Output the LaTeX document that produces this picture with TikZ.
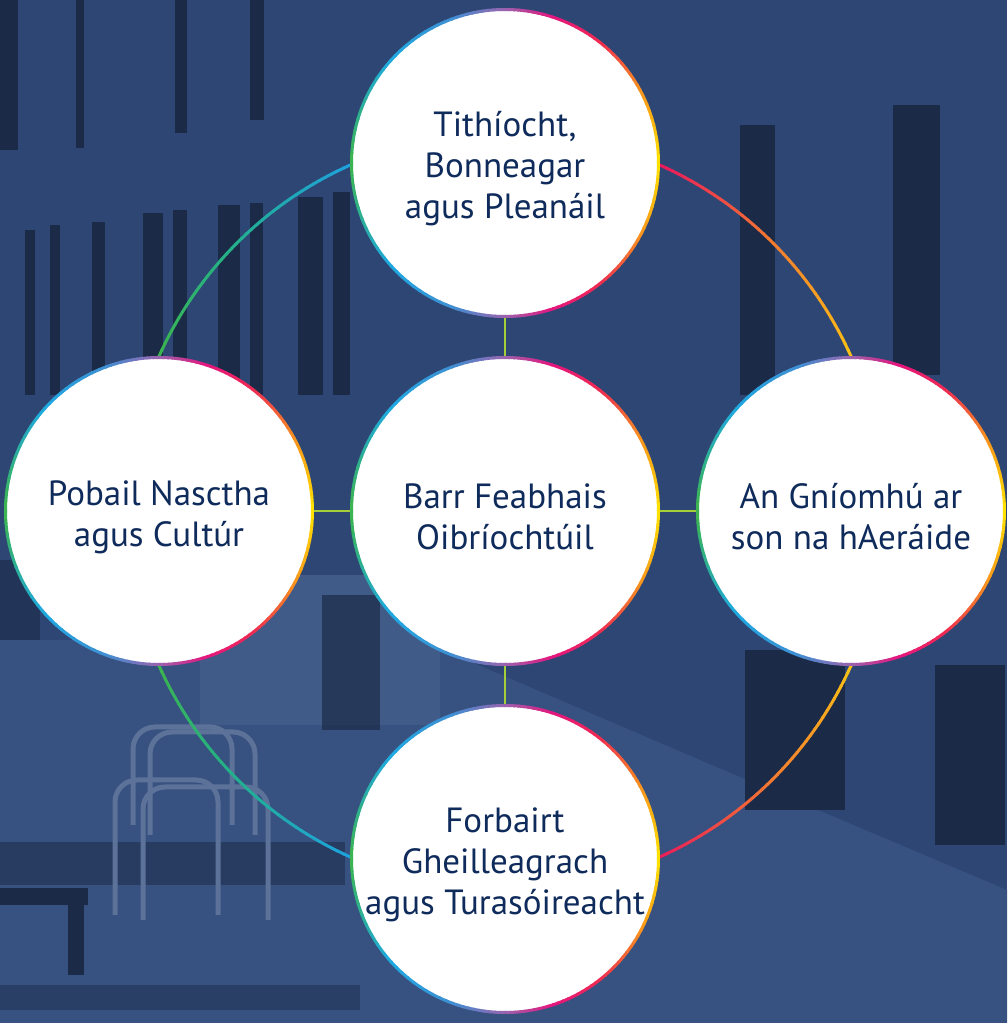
\documentclass[tikz,border=0pt]{standalone}
\usepackage{fontspec}
\setmainfont{PT Sans}
\usetikzlibrary{calc}
\definecolor{bgblue}{HTML}{2D4674}
\definecolor{bgdark}{HTML}{1B2B47}
\definecolor{bglight}{HTML}{375180}
\definecolor{bglighter}{HTML}{415B88}
\definecolor{rack}{HTML}{5D7299}
\definecolor{navy}{HTML}{0F2B5B}
\definecolor{rY}{HTML}{FFE500}
\definecolor{rO}{HTML}{F7931E}
\definecolor{rR}{HTML}{EE2B52}
\definecolor{rM}{HTML}{E5157E}
\definecolor{rP}{HTML}{9A63AE}
\definecolor{rB}{HTML}{3F8FD2}
\definecolor{rC}{HTML}{1DA9E1}
\definecolor{rG}{HTML}{3DB549}
\definecolor{aR}{HTML}{E8185C}
\definecolor{aO}{HTML}{F47C30}
\definecolor{aY}{HTML}{F9C514}
\definecolor{aC}{HTML}{1EA2DF}
\definecolor{aT}{HTML}{22B08E}
\definecolor{aG}{HTML}{3DB54A}
\definecolor{lime}{HTML}{A6CE39}
\tikzset{
  bubble/.style={circle, fill=white, minimum size=307pt, inner sep=0pt},
  txt/.style={align=center, text=navy, font=\fontsize{35}{41}\selectfont, inner sep=0pt, yshift=-6pt},
  ringline/.style={line width=3pt, line cap=butt},
  arcline/.style={line width=3pt, line cap=butt},
  conn/.style={draw=lime, line width=2.5pt},
  win/.style={fill=bgdark},
  rackline/.style={draw=rack, line width=5pt, rounded corners=22pt},
}
\newcommand\gradring[1]{%
  \begin{scope}[shift={(#1)}]
  \foreach \s/\e/\ca/\cb in {0/28/rY/rO,28/52/rO/rR,52/72/rR/rM,72/90/rM/rP,90/110/rP/rB,110/138/rB/rC,138/180/rC/rG,180/222/rG/rC,222/250/rC/rB,250/270/rB/rP,270/288/rP/rM,288/308/rM/rR,308/332/rR/rO,332/360/rO/rY}{
    \foreach \i in {0,...,9}{
      \pgfmathsetmacro\aa{\s+\i*(\e-\s)/10}
      \pgfmathsetmacro\bb{\aa+(\e-\s)/10+0.5}
      \pgfmathsetmacro\pp{(\i+0.5)*10}
      \draw[ringline, draw={\cb!\pp!\ca}] (\aa:153.5) arc[start angle=\aa, end angle=\bb, radius=153.5];
    }}
  \end{scope}}
\newcommand\gradarc[4]{%
  \foreach \i in {0,...,19}{
    \pgfmathsetmacro\aa{#1+\i*(#2-#1)/20}
    \pgfmathsetmacro\bb{\aa+(#2-#1)/20*1.15}
    \pgfmathsetmacro\pp{(\i+0.5)*5}
    \draw[arcline, draw={#4!\pp!#3}] ($(c.center)+(\aa:379)$) arc[start angle=\aa, end angle=\bb, radius=379];
  }}
\begin{document}
\begin{tikzpicture}[x=1pt,y=1pt]
\useasboundingbox (0,0) rectangle (1007,1023);
% background scene (pixel coordinates, y downwards)
\fill[bgblue] (0,0) rectangle (1007,1023);
\begin{scope}[shift={(0,1023)}, yscale=-1]
  % ground / pavement
  \fill[bglight] (0,640) -- (420,640) -- (700,760) -- (1007,890) -- (1007,1023) -- (0,1023) -- cycle;
  \fill[bgdark, opacity=0.55] (0,842) -- (345,842) -- (345,885) -- (0,885) -- cycle;
  \fill[bgdark, opacity=0.45] (0,985) rectangle (360,1010);
  \fill[bglighter] (200,575) rectangle (440,725);
  % upper windows
  \fill[win] (0,0) rectangle (18,150);
  \fill[win] (76,0) rectangle (84,148);
  \fill[win] (175,0) rectangle (187,133);
  \fill[win] (250,0) rectangle (264,120);
  % middle windows
  \fill[win] (25,230) rectangle (35,395);
  \fill[win] (50,225) rectangle (60,395);
  \fill[win] (92,222) rectangle (105,395);
  \fill[win] (143,213) rectangle (163,395);
  \fill[win] (173,210) rectangle (187,395);
  \fill[win] (218,205) rectangle (240,395);
  \fill[win] (250,203) rectangle (263,395);
  \fill[win] (298,197) rectangle (323,395);
  \fill[win] (333,192) rectangle (350,395);
  % right windows
  \fill[win] (740,125) rectangle (775,395);
  \fill[win] (893,105) rectangle (940,375);
  % lower left building
  \fill[win, opacity=0.6] (0,560) rectangle (40,640);
  % lower right fences
  \fill[win] (935,665) rectangle (1005,845);
  \fill[win] (745,650) rectangle (845,810);
  \fill[win, opacity=0.7] (322,595) rectangle (380,730);
  % bike racks
  \draw[rackline] (133,825) -- (133,727) -- (232,727) -- (232,825);
  \draw[rackline] (150,835) -- (150,732) -- (255,732) -- (255,835);
  \draw[rackline] (115,915) -- (115,780) -- (218,780) -- (218,915);
  \draw[rackline] (143,920) -- (143,787) -- (268,787) -- (268,920);
  % bench
  \fill[win] (0,888) rectangle (88,905);
  \fill[win] (68,905) rectangle (84,975);
\end{scope}
% nodes
\node[bubble] (c) at (505,512) {};
\node[bubble] (t) at (505,860) {};
\node[bubble] (b) at (505,164) {};
\node[bubble] (l) at (159,512) {};
\node[bubble] (r) at (851,512) {};
% ring connectors
\gradarc{66}{45}{aR}{aO}
\gradarc{45}{23}{aO}{aY}
\gradarc{-23}{-45}{aY}{aO}
\gradarc{-45}{-67}{aO}{aR}
\gradarc{114}{135}{aC}{aT}
\gradarc{135}{157}{aT}{aG}
\gradarc{-114}{-135}{aC}{aT}
\gradarc{-135}{-157}{aT}{aG}
% straight connectors
\draw[conn] (c.north) -- (t.south);
\draw[conn] (c.south) -- (b.north);
\draw[conn] (c.west) -- (l.east);
\draw[conn] (c.east) -- (r.west);
% circles on top
\foreach \n in {c,t,b,l,r}{
  \fill[white] (\n.center) circle[radius=154];
  \gradring{\n.center}
}
% texts
\node[txt] (tT) at (t.center) {Tithíocht,\\Bonneagar\\agus Pleanáil};
\node[txt] (cT) at (c.center) {Barr Feabhais\\Oibríochtúil};
\node[txt] (lT) at (l.center) {Pobail Nasctha\\agus Cultúr};
\node[txt] (rT) at (r.center) {An Gníomhú ar\\son na hAeráide};
\node[txt] (bT) at (b.center) {Forbairt\\Gheilleagrach\\agus Turasóireacht};
\end{tikzpicture}
\end{document}
